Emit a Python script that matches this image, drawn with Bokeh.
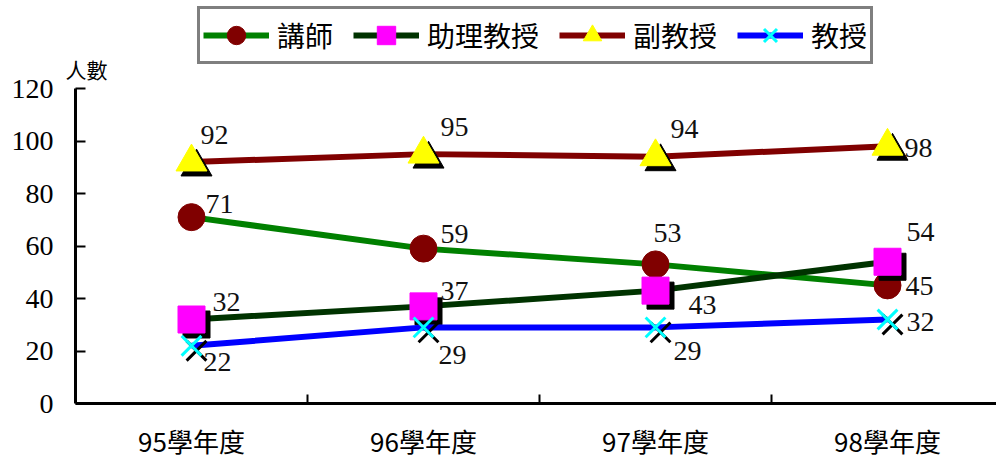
from bokeh.plotting import figure
from bokeh.models import (ColumnDataSource, Range1d, FixedTicker, Legend,
                          LegendItem, Label, LabelSet)
from bokeh.embed import file_html
from bokeh.resources import INLINE

# ---- data -------------------------------------------------------------
years = ["95學年度", "96學年度", "97學年度", "98學年度"]
lecturer = [71, 59, 53, 45]          # 講師
assistant_prof = [32, 37, 43, 54]    # 助理教授
associate_prof = [92, 95, 94, 98]    # 副教授
professor = [22, 29, 29, 32]         # 教授
series_names = ["講師", "助理教授", "副教授", "教授"]
y_ticks = [0, 20, 40, 60, 80, 100, 120]

# ---- layout constants -------------------------------------------------
W, H = 996, 461
AXIS_X = 75                           # canvas x of the value axis
AXIS_Y = 403                          # canvas y of the category axis
AXIS_TOP = 88                         # canvas y of the value 120
cat_px = 232                          # width of one category band
px_x = 1 / cat_px                     # data units per pixel
px_y = 120 / (AXIS_Y - AXIS_TOP)
x_start = -AXIS_X * px_x
x_end = (W - AXIS_X) * px_x
y_start = -(H - AXIS_Y) * px_y
y_end = AXIS_Y * px_y

xs = [i + 0.5 for i in range(len(years))]
bounds = [i for i in range(1, len(years))]

NUM_FONT = "Liberation Serif"
CJK_FONT = "Noto Sans CJK TC"

# the frame covers the whole canvas; both axes are pinned inside it
p = figure(width=W, height=H, output_backend="svg", toolbar_location=None,
           x_range=Range1d(x_start, x_end), y_range=Range1d(y_start, y_end),
           min_border_left=0, min_border_top=0,
           min_border_bottom=0, min_border_right=0)
p.outline_line_color = None
p.xgrid.visible = False
p.ygrid.visible = False
p.background_fill_color = "white"
p.border_fill_color = "white"

# x axis: labels at band centres, ticks on band boundaries
xa = p.xaxis[0]
xa.fixed_location = 0
xa.ticker = FixedTicker(ticks=xs, minor_ticks=bounds)
xa.bounds = (0, x_end)
xa.major_label_overrides = {x: y for x, y in zip(xs, years)}
xa.major_tick_in = 0
xa.major_tick_out = 0
xa.minor_tick_in = 9
xa.minor_tick_out = 0
xa.minor_tick_line_color = "black"
xa.minor_tick_line_width = 2
xa.axis_line_width = 3
xa.axis_line_color = "black"
xa.major_label_standoff = 18
xa.major_label_text_font = CJK_FONT
xa.major_label_text_font_size = "26px"
xa.major_label_text_color = "black"

ya = p.yaxis[0]
ya.fixed_location = 0
ya.ticker = FixedTicker(ticks=y_ticks)
ya.bounds = (0, 120)
ya.major_tick_in = 10
ya.major_tick_out = 0
ya.major_tick_line_width = 2
ya.major_tick_line_color = "black"
ya.minor_tick_line_color = None
ya.axis_line_width = 3
ya.axis_line_color = "black"
ya.major_label_standoff = 22
ya.major_label_text_font = NUM_FONT
ya.major_label_text_font_size = "28px"
ya.major_label_text_color = "black"

# ---- series -----------------------------------------------------------
styles = [
    dict(line="#008000", marker="circle", fill="#800000", size=27, shadow=False),
    dict(line="#003300", marker="square", fill="#FF00FF", size=27, shadow=True),
    dict(line="#800000", marker="triangle", fill="#FFFF00", size=31, shadow=True),
    dict(line="#0000FF", marker="x", fill="#00FFFF", size=28, shadow=True),
]
# value-label offsets (pixels, text left edge / text centre, up positive)
label_dx = [[14, 17, -2, 18], [21, 17, 33, 19], [9, 17, 15, 17], [12, 15, 18, 19]]
label_dy = [[13, 15, 31, -1], [18, 15, -14, 30], [27, 27, 28, -2], [-16, -28, -24, -2]]

values = [lecturer, assistant_prof, associate_prof, professor]
items = []
SH = 5  # shadow offset in pixels
for k, (name, vals, st) in enumerate(zip(series_names, values, styles)):
    src = ColumnDataSource(dict(
        x=xs, y=vals,
        xs_sh=[x + SH * px_x for x in xs], ys_sh=[v - SH * px_y for v in vals],
        txt=[str(v) for v in vals], dx=label_dx[k], dy=label_dy[k]))
    ln = p.line("x", "y", source=src, line_color=st["line"], line_width=6)
    if st["shadow"]:
        if st["marker"] == "x":
            p.scatter("xs_sh", "ys_sh", source=src, marker="x", size=st["size"],
                      line_color="black", line_width=3)
        else:
            p.scatter("xs_sh", "ys_sh", source=src, marker=st["marker"],
                      size=st["size"], fill_color="black", line_color="black")
    if st["marker"] == "x":
        mk = p.scatter("x", "y", source=src, marker="x", size=st["size"],
                       line_color=st["fill"], line_width=3)
    else:
        mk = p.scatter("x", "y", source=src, marker=st["marker"], size=st["size"],
                       fill_color=st["fill"], line_color=st["fill"])
    items.append(LegendItem(label=name, renderers=[ln, mk]))
    p.add_layout(LabelSet(x="x", y="y", text="txt", source=src,
                          x_offset="dx", y_offset="dy",
                          text_font=NUM_FONT, text_font_size="28px",
                          text_color="#111111", text_align="left",
                          text_baseline="middle"))

legend = Legend(items=items, orientation="horizontal",
                location=(197, H - 64),
                glyph_width=66, glyph_height=46, label_standoff=8,
                spacing=20, padding=3, margin=0,
                label_text_font=CJK_FONT, label_text_font_size="28px",
                label_text_color="black",
                border_line_color="black", border_line_width=3,
                background_fill_color="white", background_fill_alpha=1.0)
p.add_layout(legend, "center")

p.add_layout(Label(x=65, y=H - 68, x_units="screen",
                   y_units="screen", text="人數", text_font=CJK_FONT,
                   text_font_size="21px", text_color="black",
                   text_baseline="middle", text_align="left"))

open("out.html", "w").write(file_html(p, INLINE))
